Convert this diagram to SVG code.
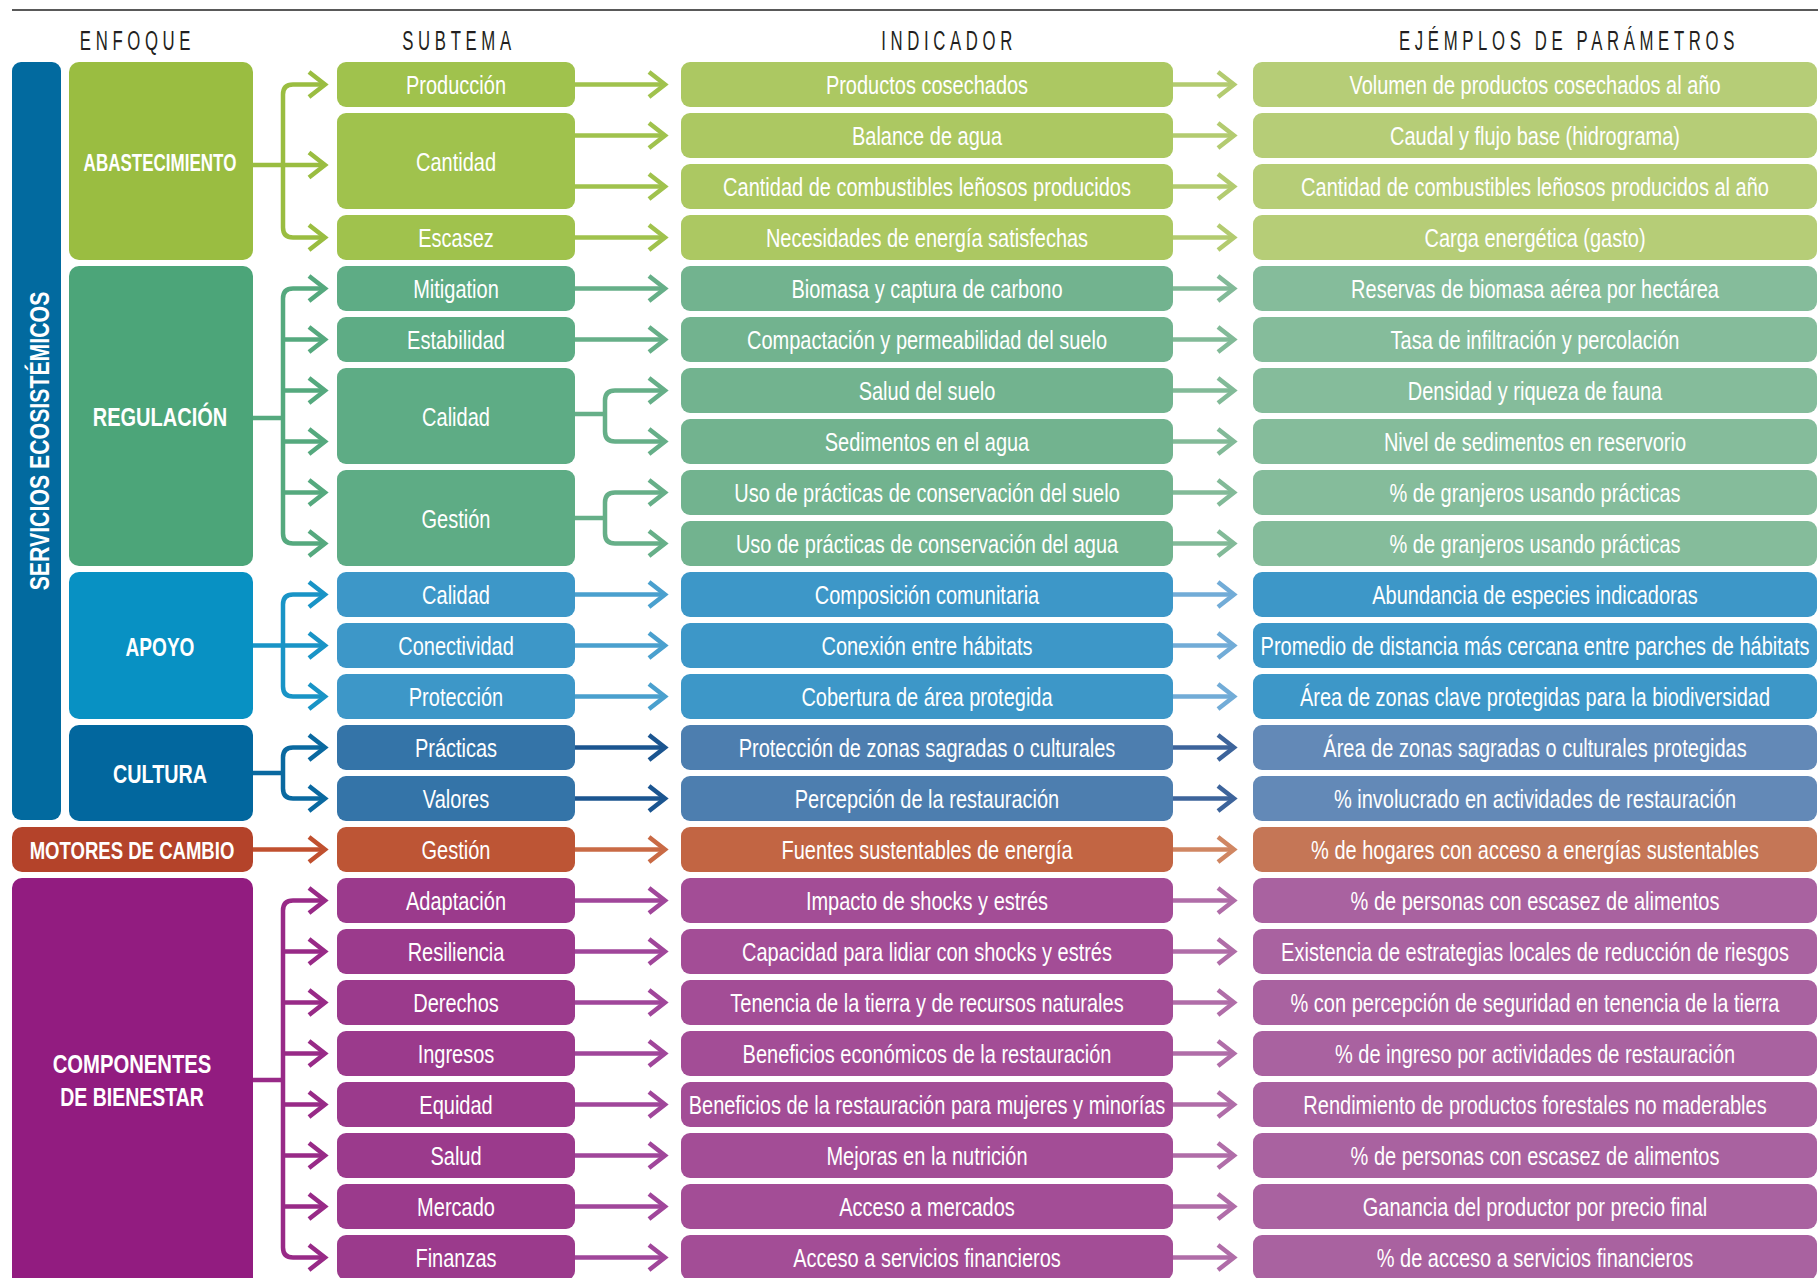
<svg xmlns="http://www.w3.org/2000/svg" xmlns:xlink="http://www.w3.org/1999/xlink" width="1818" height="1278" viewBox="0 0 1818 1278">
<style>
text{font-family:"Liberation Sans",Arial,sans-serif;text-anchor:middle;fill:#fff}
.t{font-size:25px}
.b{font-weight:bold;font-size:26px}
.h{font-size:27px;fill:#231f20;letter-spacing:7.5px}
.cn path{fill:none;stroke-width:4.5}
#chev{fill:none;stroke-width:4.5;stroke-linejoin:miter;stroke-miterlimit:10}
.A1{fill:#9abd41}.A2{fill:#a0c24d}.A3{fill:#acc862}.A4{fill:#b6cd77}
.R1{fill:#4ca579}.R2{fill:#5eac85}.R3{fill:#72b38f}.R4{fill:#85bc9b}
.P1{fill:#0891c3}.P2{fill:#3d97c8}.P3{fill:#3d97c8}.P4{fill:#3d97c8}
.C1{fill:#02679e}.C2{fill:#3474a8}.C3{fill:#4d7eaf}.C4{fill:#6389b7}
.M1{fill:#b4432a}.M2{fill:#bd5535}.M3{fill:#c26543}.M4{fill:#c57656}
.W1{fill:#921c80}.W2{fill:#9b3a8c}.W3{fill:#a34d96}.W4{fill:#a962a0}
</style>
<defs>
<path id="chev" d="M-16,-12.5 L0,0 L-16,12.5"/>
</defs>
<rect width="1818" height="1278" fill="#fff"/>
<line x1="12" y1="10" x2="1818" y2="10" stroke="#222" stroke-width="1.6"/>
<g id="headers">
<text class="h" transform="matrix(0.62 0 0 1 137.5 50)">ENFOQUE</text>
<text class="h" transform="matrix(0.62 0 0 1 459 50)">SUBTEMA</text>
<text class="h" transform="matrix(0.62 0 0 1 949 50)">INDICADOR</text>
<text class="h" transform="matrix(0.62 0 0 1 1569 50)">EJÉMPLOS DE PARÁMETROS</text>
</g>
<g id="servicios-ecosistemicos">
<rect x="12" y="62" width="49" height="758" rx="9" fill="#026a9f"/>
<text class="b" style="font-size:28px" transform="translate(48.5,441) rotate(-90) scale(0.76,1)">SERVICIOS ECOSISTÉMICOS</text>
</g>
<g id="enf-abastecimiento"><rect class="A1" x="69" y="62" width="184" height="198" rx="10"/><text class="b" style="font-size:23px" transform="matrix(0.74 0 0 1 160 170.5)">ABASTECIMIENTO</text></g>
<g id="enf-regulacion"><rect class="R1" x="69" y="266" width="184" height="300" rx="10"/><text class="b" style="font-size:26.5px" transform="matrix(0.755 0 0 1 160 425.7)">REGULACIÓN</text></g>
<g id="enf-apoyo"><rect class="P1" x="69" y="572" width="184" height="147" rx="10"/><text class="b" style="font-size:26.5px" transform="matrix(0.72 0 0 1 160 655.7)">APOYO</text></g>
<g id="enf-cultura"><rect class="C1" x="69" y="725" width="184" height="96" rx="10"/><text class="b" transform="matrix(0.76 0 0 1 160 782.7)">CULTURA</text></g>
<g id="enf-motores"><rect class="M1" x="12" y="827" width="241" height="45" rx="10"/><text class="b" style="font-size:24px" transform="matrix(0.773 0 0 1 132 859)">MOTORES DE CAMBIO</text></g>
<g id="enf-componentes"><rect class="W1" x="12" y="878" width="241" height="420" rx="10"/><text class="b" transform="matrix(0.78 0 0 1 132 1073.3)">COMPONENTES</text><text class="b" transform="matrix(0.75 0 0 1 132 1105.7)">DE BIENESTAR</text></g>

<g class="cn" id="connectors">
<path stroke="#9abd41" d="M325,84.5H293Q283,84.5 283,94.5V227.5Q283,237.5 293,237.5H325M253,165H325"/>
<path stroke="#55a97e" d="M325,288.5H293Q283,288.5 283,298.5V533.5Q283,543.5 293,543.5H325M253,418H283M283,339.5H325M283,390.5H325M283,441.5H325M283,492.5H325"/>
<path stroke="#1994c6" d="M325,594.5H293Q283,594.5 283,604.5V686.5Q283,696.5 293,696.5H325M253,645.5H325"/>
<path stroke="#0a69a0" d="M325,747.5H293Q283,747.5 283,757.5V788.5Q283,798.5 293,798.5H325M253,773H283"/>
<path stroke="#c0502f" d="M253,849.5H325"/>
<path stroke="#982a87" d="M325,900.5H293Q283,900.5 283,910.5V1247.5Q283,1257.5 293,1257.5H325M253,1080H283M283,951.5H325M283,1002.5H325M283,1053.5H325M283,1104.5H325M283,1155.5H325M283,1206.5H325"/>
<use href="#chev" x="325" y="84.5" stroke="#9abd41"/><use href="#chev" x="325" y="165" stroke="#9abd41"/><use href="#chev" x="325" y="237.5" stroke="#9abd41"/>
<use href="#chev" x="325" y="288.5" stroke="#55a97e"/><use href="#chev" x="325" y="339.5" stroke="#55a97e"/><use href="#chev" x="325" y="390.5" stroke="#55a97e"/><use href="#chev" x="325" y="441.5" stroke="#55a97e"/><use href="#chev" x="325" y="492.5" stroke="#55a97e"/><use href="#chev" x="325" y="543.5" stroke="#55a97e"/>
<use href="#chev" x="325" y="594.5" stroke="#1994c6"/><use href="#chev" x="325" y="645.5" stroke="#1994c6"/><use href="#chev" x="325" y="696.5" stroke="#1994c6"/>
<use href="#chev" x="325" y="747.5" stroke="#0a69a0"/><use href="#chev" x="325" y="798.5" stroke="#0a69a0"/>
<use href="#chev" x="325" y="849.5" stroke="#c0502f"/>
<use href="#chev" x="325" y="900.5" stroke="#982a87"/><use href="#chev" x="325" y="951.5" stroke="#982a87"/><use href="#chev" x="325" y="1002.5" stroke="#982a87"/><use href="#chev" x="325" y="1053.5" stroke="#982a87"/><use href="#chev" x="325" y="1104.5" stroke="#982a87"/><use href="#chev" x="325" y="1155.5" stroke="#982a87"/><use href="#chev" x="325" y="1206.5" stroke="#982a87"/><use href="#chev" x="325" y="1257.5" stroke="#982a87"/>
<path stroke="#a0c24d" d="M575,84.5H665M575,135.5H665M575,186.5H665M575,237.5H665"/>
<path stroke="#66af88" d="M575,288.5H665M575,339.5H665M575,414H605M665,390.5H615Q605,390.5 605,400.5V431.5Q605,441.5 615,441.5H665M575,518H605M665,492.5H615Q605,492.5 605,502.5V533.5Q605,543.5 615,543.5H665"/>
<path stroke="#4aa0ce" d="M575,594.5H665M575,645.5H665M575,696.5H665"/>
<path stroke="#1b5590" d="M575,747.5H665M575,798.5H665"/>
<path stroke="#c96a45" d="M575,849.5H665"/>
<path stroke="#a0469a" d="M575,900.5H665M575,951.5H665M575,1002.5H665M575,1053.5H665M575,1104.5H665M575,1155.5H665M575,1206.5H665M575,1257.5H665"/>
<use href="#chev" x="665" y="84.5" stroke="#a0c24d"/><use href="#chev" x="665" y="135.5" stroke="#a0c24d"/><use href="#chev" x="665" y="186.5" stroke="#a0c24d"/><use href="#chev" x="665" y="237.5" stroke="#a0c24d"/>
<use href="#chev" x="665" y="288.5" stroke="#66af88"/><use href="#chev" x="665" y="339.5" stroke="#66af88"/><use href="#chev" x="665" y="390.5" stroke="#66af88"/><use href="#chev" x="665" y="441.5" stroke="#66af88"/><use href="#chev" x="665" y="492.5" stroke="#66af88"/><use href="#chev" x="665" y="543.5" stroke="#66af88"/>
<use href="#chev" x="665" y="594.5" stroke="#4aa0ce"/><use href="#chev" x="665" y="645.5" stroke="#4aa0ce"/><use href="#chev" x="665" y="696.5" stroke="#4aa0ce"/>
<use href="#chev" x="665" y="747.5" stroke="#1b5590"/><use href="#chev" x="665" y="798.5" stroke="#1b5590"/>
<use href="#chev" x="665" y="849.5" stroke="#c96a45"/>
<use href="#chev" x="665" y="900.5" stroke="#a0469a"/><use href="#chev" x="665" y="951.5" stroke="#a0469a"/><use href="#chev" x="665" y="1002.5" stroke="#a0469a"/><use href="#chev" x="665" y="1053.5" stroke="#a0469a"/><use href="#chev" x="665" y="1104.5" stroke="#a0469a"/><use href="#chev" x="665" y="1155.5" stroke="#a0469a"/><use href="#chev" x="665" y="1206.5" stroke="#a0469a"/><use href="#chev" x="665" y="1257.5" stroke="#a0469a"/>
<path stroke="#b3cb70" d="M1173,84.5H1234M1173,135.5H1234M1173,186.5H1234M1173,237.5H1234"/>
<path stroke="#82ba98" d="M1173,288.5H1234M1173,339.5H1234M1173,390.5H1234M1173,441.5H1234M1173,492.5H1234M1173,543.5H1234"/>
<path stroke="#72acd7" d="M1173,594.5H1234M1173,645.5H1234M1173,696.5H1234"/>
<path stroke="#3d649b" d="M1173,747.5H1234M1173,798.5H1234"/>
<path stroke="#d08662" d="M1173,849.5H1234"/>
<path stroke="#b06da8" d="M1173,900.5H1234M1173,951.5H1234M1173,1002.5H1234M1173,1053.5H1234M1173,1104.5H1234M1173,1155.5H1234M1173,1206.5H1234M1173,1257.5H1234"/>
<use href="#chev" x="1234" y="84.5" stroke="#b3cb70"/><use href="#chev" x="1234" y="135.5" stroke="#b3cb70"/><use href="#chev" x="1234" y="186.5" stroke="#b3cb70"/><use href="#chev" x="1234" y="237.5" stroke="#b3cb70"/>
<use href="#chev" x="1234" y="288.5" stroke="#82ba98"/><use href="#chev" x="1234" y="339.5" stroke="#82ba98"/><use href="#chev" x="1234" y="390.5" stroke="#82ba98"/><use href="#chev" x="1234" y="441.5" stroke="#82ba98"/><use href="#chev" x="1234" y="492.5" stroke="#82ba98"/><use href="#chev" x="1234" y="543.5" stroke="#82ba98"/>
<use href="#chev" x="1234" y="594.5" stroke="#72acd7"/><use href="#chev" x="1234" y="645.5" stroke="#72acd7"/><use href="#chev" x="1234" y="696.5" stroke="#72acd7"/>
<use href="#chev" x="1234" y="747.5" stroke="#3d649b"/><use href="#chev" x="1234" y="798.5" stroke="#3d649b"/>
<use href="#chev" x="1234" y="849.5" stroke="#d08662"/>
<use href="#chev" x="1234" y="900.5" stroke="#b06da8"/><use href="#chev" x="1234" y="951.5" stroke="#b06da8"/><use href="#chev" x="1234" y="1002.5" stroke="#b06da8"/><use href="#chev" x="1234" y="1053.5" stroke="#b06da8"/><use href="#chev" x="1234" y="1104.5" stroke="#b06da8"/><use href="#chev" x="1234" y="1155.5" stroke="#b06da8"/><use href="#chev" x="1234" y="1206.5" stroke="#b06da8"/><use href="#chev" x="1234" y="1257.5" stroke="#b06da8"/>
</g>

<g id="subtemas">
<g id="sub-produccion"><rect class="A2" x="337" y="62" width="238" height="45" rx="9"/><text class="t" transform="matrix(0.8 0 0 1 456 94)">Producción</text></g>
<g id="sub-cantidad"><rect class="A2" x="337" y="113" width="238" height="96" rx="9"/><text class="t" transform="matrix(0.8 0 0 1 456 170.5)">Cantidad</text></g>
<g id="sub-escasez"><rect class="A2" x="337" y="215" width="238" height="45" rx="9"/><text class="t" transform="matrix(0.8 0 0 1 456 247)">Escasez</text></g>
<g id="sub-mitigation"><rect class="R2" x="337" y="266" width="238" height="45" rx="9"/><text class="t" transform="matrix(0.8 0 0 1 456 298)">Mitigation</text></g>
<g id="sub-estabilidad"><rect class="R2" x="337" y="317" width="238" height="45" rx="9"/><text class="t" transform="matrix(0.8 0 0 1 456 349)">Estabilidad</text></g>
<g id="sub-calidad-r"><rect class="R2" x="337" y="368" width="238" height="96" rx="9"/><text class="t" transform="matrix(0.8 0 0 1 456 425.5)">Calidad</text></g>
<g id="sub-gestion-r"><rect class="R2" x="337" y="470" width="238" height="96" rx="9"/><text class="t" transform="matrix(0.8 0 0 1 456 527.5)">Gestión</text></g>
<g id="sub-calidad-p"><rect class="P2" x="337" y="572" width="238" height="45" rx="9"/><text class="t" transform="matrix(0.8 0 0 1 456 604)">Calidad</text></g>
<g id="sub-conectividad"><rect class="P2" x="337" y="623" width="238" height="45" rx="9"/><text class="t" transform="matrix(0.8 0 0 1 456 655)">Conectividad</text></g>
<g id="sub-proteccion"><rect class="P2" x="337" y="674" width="238" height="45" rx="9"/><text class="t" transform="matrix(0.8 0 0 1 456 706)">Protección</text></g>
<g id="sub-practicas"><rect class="C2" x="337" y="725" width="238" height="45" rx="9"/><text class="t" transform="matrix(0.8 0 0 1 456 757)">Prácticas</text></g>
<g id="sub-valores"><rect class="C2" x="337" y="776" width="238" height="45" rx="9"/><text class="t" transform="matrix(0.8 0 0 1 456 808)">Valores</text></g>
<g id="sub-gestion-m"><rect class="M2" x="337" y="827" width="238" height="45" rx="9"/><text class="t" transform="matrix(0.8 0 0 1 456 859)">Gestión</text></g>
<g id="sub-adaptacion"><rect class="W2" x="337" y="878" width="238" height="45" rx="9"/><text class="t" transform="matrix(0.8 0 0 1 456 910)">Adaptación</text></g>
<g id="sub-resiliencia"><rect class="W2" x="337" y="929" width="238" height="45" rx="9"/><text class="t" transform="matrix(0.8 0 0 1 456 961)">Resiliencia</text></g>
<g id="sub-derechos"><rect class="W2" x="337" y="980" width="238" height="45" rx="9"/><text class="t" transform="matrix(0.8 0 0 1 456 1012)">Derechos</text></g>
<g id="sub-ingresos"><rect class="W2" x="337" y="1031" width="238" height="45" rx="9"/><text class="t" transform="matrix(0.8 0 0 1 456 1063)">Ingresos</text></g>
<g id="sub-equidad"><rect class="W2" x="337" y="1082" width="238" height="45" rx="9"/><text class="t" transform="matrix(0.8 0 0 1 456 1114)">Equidad</text></g>
<g id="sub-salud"><rect class="W2" x="337" y="1133" width="238" height="45" rx="9"/><text class="t" transform="matrix(0.8 0 0 1 456 1165)">Salud</text></g>
<g id="sub-mercado"><rect class="W2" x="337" y="1184" width="238" height="45" rx="9"/><text class="t" transform="matrix(0.8 0 0 1 456 1216)">Mercado</text></g>
<g id="sub-finanzas"><rect class="W2" x="337" y="1235" width="238" height="45" rx="9"/><text class="t" transform="matrix(0.8 0 0 1 456 1267)">Finanzas</text></g>
</g>

<g id="indicadores">
<g id="ind-0"><rect class="A3" x="681" y="62" width="492" height="45" rx="9"/><text class="t" transform="matrix(0.8 0 0 1 927 94)">Productos cosechados</text></g>
<g id="ind-1"><rect class="A3" x="681" y="113" width="492" height="45" rx="9"/><text class="t" transform="matrix(0.8 0 0 1 927 145)">Balance de agua</text></g>
<g id="ind-2"><rect class="A3" x="681" y="164" width="492" height="45" rx="9"/><text class="t" transform="matrix(0.8 0 0 1 927 196)">Cantidad de combustibles leñosos producidos</text></g>
<g id="ind-3"><rect class="A3" x="681" y="215" width="492" height="45" rx="9"/><text class="t" transform="matrix(0.8 0 0 1 927 247)">Necesidades de energía satisfechas</text></g>
<g id="ind-4"><rect class="R3" x="681" y="266" width="492" height="45" rx="9"/><text class="t" transform="matrix(0.8 0 0 1 927 298)">Biomasa y captura de carbono</text></g>
<g id="ind-5"><rect class="R3" x="681" y="317" width="492" height="45" rx="9"/><text class="t" transform="matrix(0.8 0 0 1 927 349)">Compactación y permeabilidad del suelo</text></g>
<g id="ind-6"><rect class="R3" x="681" y="368" width="492" height="45" rx="9"/><text class="t" transform="matrix(0.8 0 0 1 927 400)">Salud del suelo</text></g>
<g id="ind-7"><rect class="R3" x="681" y="419" width="492" height="45" rx="9"/><text class="t" transform="matrix(0.8 0 0 1 927 451)">Sedimentos en el agua</text></g>
<g id="ind-8"><rect class="R3" x="681" y="470" width="492" height="45" rx="9"/><text class="t" transform="matrix(0.8 0 0 1 927 502)">Uso de prácticas de conservación del suelo</text></g>
<g id="ind-9"><rect class="R3" x="681" y="521" width="492" height="45" rx="9"/><text class="t" transform="matrix(0.8 0 0 1 927 553)">Uso de prácticas de conservación del agua</text></g>
<g id="ind-10"><rect class="P3" x="681" y="572" width="492" height="45" rx="9"/><text class="t" transform="matrix(0.8 0 0 1 927 604)">Composición comunitaria</text></g>
<g id="ind-11"><rect class="P3" x="681" y="623" width="492" height="45" rx="9"/><text class="t" transform="matrix(0.8 0 0 1 927 655)">Conexión entre hábitats</text></g>
<g id="ind-12"><rect class="P3" x="681" y="674" width="492" height="45" rx="9"/><text class="t" transform="matrix(0.8 0 0 1 927 706)">Cobertura de área protegida</text></g>
<g id="ind-13"><rect class="C3" x="681" y="725" width="492" height="45" rx="9"/><text class="t" transform="matrix(0.8 0 0 1 927 757)">Protección de zonas sagradas o culturales</text></g>
<g id="ind-14"><rect class="C3" x="681" y="776" width="492" height="45" rx="9"/><text class="t" transform="matrix(0.8 0 0 1 927 808)">Percepción de la restauración</text></g>
<g id="ind-15"><rect class="M3" x="681" y="827" width="492" height="45" rx="9"/><text class="t" transform="matrix(0.8 0 0 1 927 859)">Fuentes sustentables de energía</text></g>
<g id="ind-16"><rect class="W3" x="681" y="878" width="492" height="45" rx="9"/><text class="t" transform="matrix(0.8 0 0 1 927 910)">Impacto de shocks y estrés</text></g>
<g id="ind-17"><rect class="W3" x="681" y="929" width="492" height="45" rx="9"/><text class="t" transform="matrix(0.8 0 0 1 927 961)">Capacidad para lidiar con shocks y estrés</text></g>
<g id="ind-18"><rect class="W3" x="681" y="980" width="492" height="45" rx="9"/><text class="t" transform="matrix(0.8 0 0 1 927 1012)">Tenencia de la tierra y de recursos naturales</text></g>
<g id="ind-19"><rect class="W3" x="681" y="1031" width="492" height="45" rx="9"/><text class="t" transform="matrix(0.8 0 0 1 927 1063)">Beneficios económicos de la restauración</text></g>
<g id="ind-20"><rect class="W3" x="681" y="1082" width="492" height="45" rx="9"/><text class="t" transform="matrix(0.8 0 0 1 927 1114)">Beneficios de la restauración para mujeres y minorías</text></g>
<g id="ind-21"><rect class="W3" x="681" y="1133" width="492" height="45" rx="9"/><text class="t" transform="matrix(0.8 0 0 1 927 1165)">Mejoras en la nutrición</text></g>
<g id="ind-22"><rect class="W3" x="681" y="1184" width="492" height="45" rx="9"/><text class="t" transform="matrix(0.8 0 0 1 927 1216)">Acceso a mercados</text></g>
<g id="ind-23"><rect class="W3" x="681" y="1235" width="492" height="45" rx="9"/><text class="t" transform="matrix(0.8 0 0 1 927 1267)">Acceso a servicios financieros</text></g>
</g>

<g id="parametros">
<g id="par-0"><rect class="A4" x="1253" y="62" width="564" height="45" rx="9"/><text class="t" transform="matrix(0.8 0 0 1 1535 94)">Volumen de productos cosechados al año</text></g>
<g id="par-1"><rect class="A4" x="1253" y="113" width="564" height="45" rx="9"/><text class="t" transform="matrix(0.8 0 0 1 1535 145)">Caudal y flujo base (hidrograma)</text></g>
<g id="par-2"><rect class="A4" x="1253" y="164" width="564" height="45" rx="9"/><text class="t" transform="matrix(0.8 0 0 1 1535 196)">Cantidad de combustibles leñosos producidos al año</text></g>
<g id="par-3"><rect class="A4" x="1253" y="215" width="564" height="45" rx="9"/><text class="t" transform="matrix(0.8 0 0 1 1535 247)">Carga energética (gasto)</text></g>
<g id="par-4"><rect class="R4" x="1253" y="266" width="564" height="45" rx="9"/><text class="t" transform="matrix(0.8 0 0 1 1535 298)">Reservas de biomasa aérea por hectárea</text></g>
<g id="par-5"><rect class="R4" x="1253" y="317" width="564" height="45" rx="9"/><text class="t" transform="matrix(0.8 0 0 1 1535 349)">Tasa de infiltración y percolación</text></g>
<g id="par-6"><rect class="R4" x="1253" y="368" width="564" height="45" rx="9"/><text class="t" transform="matrix(0.8 0 0 1 1535 400)">Densidad y riqueza de fauna</text></g>
<g id="par-7"><rect class="R4" x="1253" y="419" width="564" height="45" rx="9"/><text class="t" transform="matrix(0.8 0 0 1 1535 451)">Nivel de sedimentos en reservorio</text></g>
<g id="par-8"><rect class="R4" x="1253" y="470" width="564" height="45" rx="9"/><text class="t" transform="matrix(0.8 0 0 1 1535 502)">% de granjeros usando prácticas</text></g>
<g id="par-9"><rect class="R4" x="1253" y="521" width="564" height="45" rx="9"/><text class="t" transform="matrix(0.8 0 0 1 1535 553)">% de granjeros usando prácticas</text></g>
<g id="par-10"><rect class="P4" x="1253" y="572" width="564" height="45" rx="9"/><text class="t" transform="matrix(0.8 0 0 1 1535 604)">Abundancia de especies indicadoras</text></g>
<g id="par-11"><rect class="P4" x="1253" y="623" width="564" height="45" rx="9"/><text class="t" transform="matrix(0.8 0 0 1 1535 655)">Promedio de distancia más cercana entre parches de hábitats</text></g>
<g id="par-12"><rect class="P4" x="1253" y="674" width="564" height="45" rx="9"/><text class="t" transform="matrix(0.8 0 0 1 1535 706)">Área de zonas clave protegidas para la biodiversidad</text></g>
<g id="par-13"><rect class="C4" x="1253" y="725" width="564" height="45" rx="9"/><text class="t" transform="matrix(0.8 0 0 1 1535 757)">Área de zonas sagradas o culturales protegidas</text></g>
<g id="par-14"><rect class="C4" x="1253" y="776" width="564" height="45" rx="9"/><text class="t" transform="matrix(0.8 0 0 1 1535 808)">% involucrado en actividades de restauración</text></g>
<g id="par-15"><rect class="M4" x="1253" y="827" width="564" height="45" rx="9"/><text class="t" transform="matrix(0.8 0 0 1 1535 859)">% de hogares con acceso a energías sustentables</text></g>
<g id="par-16"><rect class="W4" x="1253" y="878" width="564" height="45" rx="9"/><text class="t" transform="matrix(0.8 0 0 1 1535 910)">% de personas con escasez de alimentos</text></g>
<g id="par-17"><rect class="W4" x="1253" y="929" width="564" height="45" rx="9"/><text class="t" transform="matrix(0.8 0 0 1 1535 961)">Existencia de estrategias locales de reducción de riesgos</text></g>
<g id="par-18"><rect class="W4" x="1253" y="980" width="564" height="45" rx="9"/><text class="t" transform="matrix(0.8 0 0 1 1535 1012)">% con percepción de seguridad en tenencia de la tierra</text></g>
<g id="par-19"><rect class="W4" x="1253" y="1031" width="564" height="45" rx="9"/><text class="t" transform="matrix(0.8 0 0 1 1535 1063)">% de ingreso por actividades de restauración</text></g>
<g id="par-20"><rect class="W4" x="1253" y="1082" width="564" height="45" rx="9"/><text class="t" transform="matrix(0.8 0 0 1 1535 1114)">Rendimiento de productos forestales no maderables</text></g>
<g id="par-21"><rect class="W4" x="1253" y="1133" width="564" height="45" rx="9"/><text class="t" transform="matrix(0.8 0 0 1 1535 1165)">% de personas con escasez de alimentos</text></g>
<g id="par-22"><rect class="W4" x="1253" y="1184" width="564" height="45" rx="9"/><text class="t" transform="matrix(0.8 0 0 1 1535 1216)">Ganancia del productor por precio final</text></g>
<g id="par-23"><rect class="W4" x="1253" y="1235" width="564" height="45" rx="9"/><text class="t" transform="matrix(0.8 0 0 1 1535 1267)">% de acceso a servicios financieros</text></g>
</g>
</svg>
